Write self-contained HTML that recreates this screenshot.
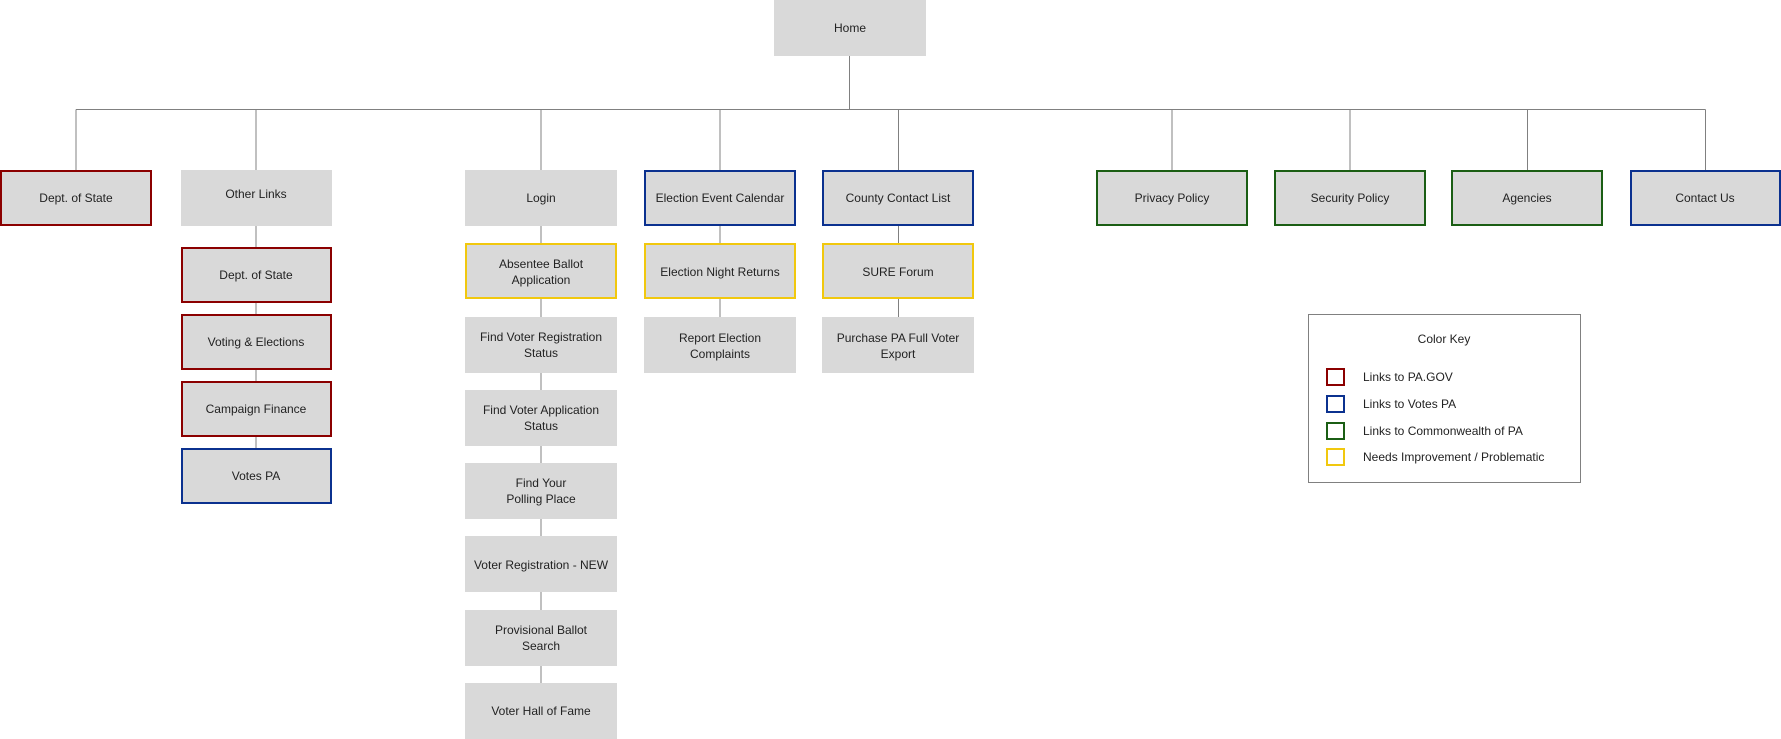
<!DOCTYPE html>
<html><head><meta charset="utf-8"><style>
html,body{margin:0;padding:0;background:#fff;width:1781px;height:739px;overflow:hidden}
text{font-family:"Liberation Sans",Arial,sans-serif;font-size:12px;fill:#222}
</style></head><body>
<svg width="1781" height="739" viewBox="0 0 1781 739" xmlns="http://www.w3.org/2000/svg">
<g stroke="#808080" stroke-width="1" fill="none">
<line x1="849.5" y1="56" x2="849.5" y2="109.5"/>
<line x1="76" y1="109.5" x2="1705.5" y2="109.5"/>
<line x1="76" y1="109.5" x2="76" y2="170"/>
<line x1="256" y1="109.5" x2="256" y2="270"/>
<line x1="541" y1="109.5" x2="541" y2="700"/>
<line x1="720" y1="109.5" x2="720" y2="330"/>
<line x1="898.5" y1="109.5" x2="898.5" y2="330"/>
<line x1="1172" y1="109.5" x2="1172" y2="170"/>
<line x1="1350" y1="109.5" x2="1350" y2="170"/>
<line x1="1527.5" y1="109.5" x2="1527.5" y2="170"/>
<line x1="1705.5" y1="109.5" x2="1705.5" y2="170"/>
<line x1="256" y1="270" x2="256" y2="470"/>
</g>
<g fill="#d9d9d9">
<rect x="774" y="0" width="152" height="56"/>
<rect x="181" y="170" width="151" height="56"/>
<rect x="465" y="170" width="152" height="56"/>
<rect x="465" y="317" width="152" height="56"/>
<rect x="465" y="390" width="152" height="56"/>
<rect x="465" y="463" width="152" height="56"/>
<rect x="465" y="536" width="152" height="56"/>
<rect x="465" y="610" width="152" height="56"/>
<rect x="465" y="683" width="152" height="56"/>
<rect x="644" y="317" width="152" height="56"/>
<rect x="822" y="317" width="152" height="56"/>
</g>
<g fill="#d9d9d9" stroke-width="2">
<rect x="1" y="171" width="150" height="54" stroke="#8b0000"/>
<rect x="182" y="248" width="149" height="54" stroke="#8b0000"/>
<rect x="182" y="315" width="149" height="54" stroke="#8b0000"/>
<rect x="182" y="382" width="149" height="54" stroke="#8b0000"/>
<rect x="182" y="449" width="149" height="54" stroke="#0b318f"/>
<rect x="645" y="171" width="150" height="54" stroke="#0b318f"/>
<rect x="823" y="171" width="150" height="54" stroke="#0b318f"/>
<rect x="1631" y="171" width="149" height="54" stroke="#0b318f"/>
<rect x="1097" y="171" width="150" height="54" stroke="#1b5e14"/>
<rect x="1275" y="171" width="150" height="54" stroke="#1b5e14"/>
<rect x="1452" y="171" width="150" height="54" stroke="#1b5e14"/>
<rect x="466" y="244" width="150" height="54" stroke="#f1c80e"/>
<rect x="645" y="244" width="150" height="54" stroke="#f1c80e"/>
<rect x="823" y="244" width="150" height="54" stroke="#f1c80e"/>
</g>
<g text-anchor="middle">
<text x="850" y="32">Home</text>
<text x="76" y="202">Dept. of State</text>
<text x="256" y="198">Other Links</text>
<text x="541" y="202">Login</text>
<text x="720" y="202">Election Event Calendar</text>
<text x="898" y="202">County Contact List</text>
<text x="1172" y="202">Privacy Policy</text>
<text x="1350" y="202">Security Policy</text>
<text x="1527" y="202">Agencies</text>
<text x="1705" y="202">Contact Us</text>
<text x="256" y="279">Dept. of State</text>
<text x="256" y="346">Voting &amp; Elections</text>
<text x="256" y="413">Campaign Finance</text>
<text x="256" y="480">Votes PA</text>
<text x="541" y="268">Absentee Ballot</text>
<text x="541" y="284">Application</text>
<text x="541" y="341">Find Voter Registration</text>
<text x="541" y="357">Status</text>
<text x="541" y="414">Find Voter Application</text>
<text x="541" y="430">Status</text>
<text x="541" y="487">Find Your</text>
<text x="541" y="503">Polling Place</text>
<text x="541" y="569">Voter Registration - NEW</text>
<text x="541" y="634">Provisional Ballot</text>
<text x="541" y="650">Search</text>
<text x="541" y="715">Voter Hall of Fame</text>
<text x="720" y="276">Election Night Returns</text>
<text x="720" y="342">Report Election</text>
<text x="720" y="358">Complaints</text>
<text x="898" y="276">SURE Forum</text>
<text x="898" y="342">Purchase PA Full Voter</text>
<text x="898" y="358">Export</text>
</g>
<rect x="1308.5" y="314.5" width="272" height="168" fill="#fff" stroke="#808080" stroke-width="1"/>
<text x="1444" y="343" text-anchor="middle">Color Key</text>
<g fill="none" stroke-width="2">
<rect x="1327" y="369" width="17" height="16" stroke="#8b0000"/>
<rect x="1327" y="396" width="17" height="16" stroke="#0b318f"/>
<rect x="1327" y="423" width="17" height="16" stroke="#1b5e14"/>
<rect x="1327" y="449" width="17" height="16" stroke="#f1c80e"/>
</g>
<text x="1363" y="381">Links to PA.GOV</text>
<text x="1363" y="408">Links to Votes PA</text>
<text x="1363" y="435">Links to Commonwealth of PA</text>
<text x="1363" y="461">Needs Improvement / Problematic</text>
</svg>
</body></html>
